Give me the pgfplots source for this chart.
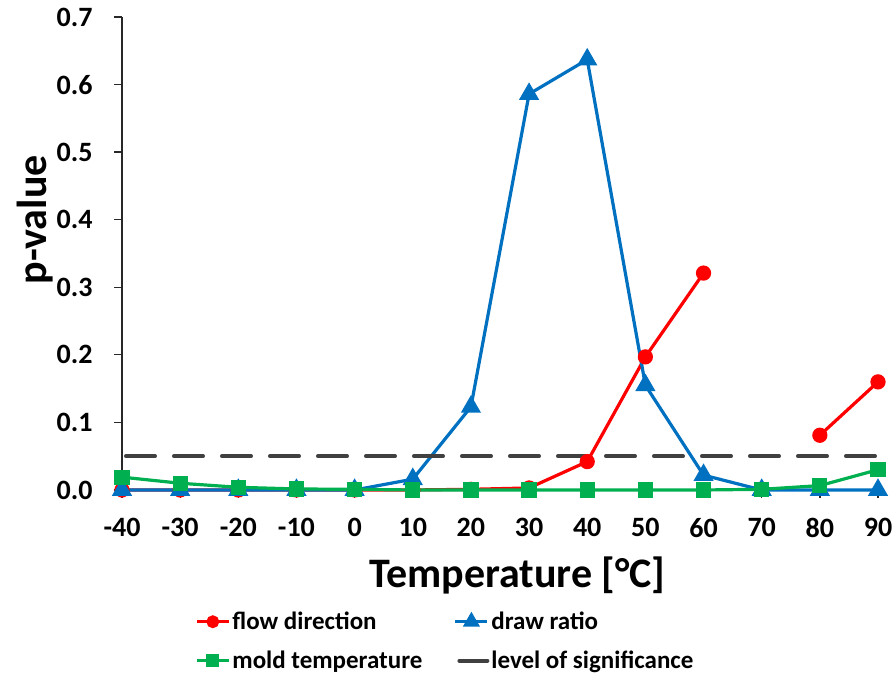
\documentclass[border=0pt]{standalone}
\usepackage{fontspec}
\setmainfont{Carlito}
\usepackage{pgfplots}
\usepackage{pgfplotstable}
\pgfplotsset{compat=1.18}
\definecolor{cred}{RGB}{255,0,0}
\definecolor{cblue}{RGB}{0,112,192}
\definecolor{cgreen}{RGB}{0,176,80}
\definecolor{cgray}{RGB}{64,64,64}
\definecolor{caxis}{RGB}{40,40,40}
\pgfplotstableread{
T    flow   draw   mold   sig
-40  0.000  0.000  0.019  0.05
-30  0.000  0.000  0.010  0.05
-20  0.000  0.000  0.004  0.05
-10  0.000  0.000  0.0015 0.05
0    0.000  0.000  0.001  0.05
10   0.000  0.016  0.000  0.05
20   0.001  0.123  0.000  0.05
30   0.003  0.586  0.000  0.05
40   0.042  0.637  0.000  0.05
50   0.197  0.155  0.000  0.05
60   0.321  0.022  0.000  0.05
70   nan    0.000  0.001  0.05
80   0.081  0.000  0.0065 0.05
90   0.160  0.000  0.030  0.05
}\data
\begin{document}
\begin{tikzpicture}
\begin{axis}[
  width=756pt, height=473pt, scale only axis,
  xmin=-40, xmax=90, ymin=0, ymax=0.7,
  clip=false,
  axis lines=left,
  axis line style={-, line width=1.3pt, caxis},
  xtick={-40,-30,-20,-10,0,10,20,30,40,50,60,70,80,90},
  xticklabels={-40,-30,-20,-10,0,10,20,30,40,50,60,70,80,90},
  ytick={0,0.1,0.2,0.3,0.4,0.5,0.6,0.7},
  yticklabels={0.0,0.1,0.2,0.3,0.4,0.5,0.6,0.7},
  tick align=outside,
  major tick length=8pt,
  tick style={line width=1.3pt, caxis},
  ticklabel style={font=\fontsize{28}{28}\selectfont\bfseries},
  yticklabel style={xshift=-18pt},
  xticklabel style={yshift=-17pt},
  xlabel={Temperature [°C]},
  ylabel={p-value},
  label style={font=\fontsize{42}{42}\selectfont\bfseries},
  xlabel style={at={(axis description cs:0.523,0)}, anchor=center, yshift=-85pt},
  ylabel style={at={(axis description cs:0,0.571)}, anchor=center, yshift=87pt},
  legend columns=2,
  legend cell align=left,
  legend style={draw=none, fill=none, font=\fontsize{25}{25}\selectfont\bfseries,
    at={(axis description cs:0.0966,0)}, anchor=north west, yshift=-120pt,
    inner sep=0pt,
    /tikz/every even column/.append style={column sep=29pt},
    /tikz/row sep=16pt},
  legend image code/.code={
    \draw[mark repeat=2, mark phase=2, mark options={scale=0.8}] plot coordinates {(0pt,0pt) (16pt,0pt) (32pt,0pt)};
  },
]
\addplot[cred, line width=3.2pt, mark=*, mark size=6pt, unbounded coords=jump] table[x=T, y=flow] {\data};
\addlegendentry{flow direction}
\addplot[cblue, line width=3.2pt, mark=triangle*, mark size=8.5pt, mark options={solid}] table[x=T, y=draw] {\data};
\addlegendentry{draw ratio}
\addplot[cgreen, line width=3.2pt, mark=square*, mark size=6pt] table[x=T, y=mold] {\data};
\addlegendentry{mold temperature}
\addplot[cgray, line width=4pt, line cap=round, dash pattern=on 29pt off 19pt, dash phase=-4pt] table[x=T, y=sig] {\data};
\addlegendentry{level of significance}
\coordinate (bl) at (rel axis cs:0,0);
\coordinate (tr) at (rel axis cs:1,1);
\end{axis}
\pgfresetboundingbox
\path[use as bounding box] ([xshift=-122pt,yshift=-188pt]bl) rectangle ([xshift=16pt,yshift=17pt]tr);
\end{tikzpicture}
\end{document}
